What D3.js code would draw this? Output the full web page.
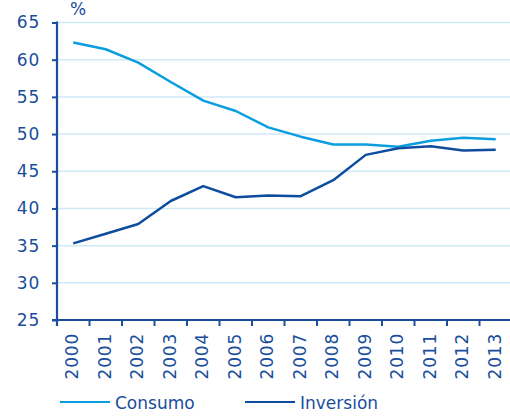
<!DOCTYPE html>
<html><head><meta charset="utf-8">
<script src="https://cdn.jsdelivr.net/npm/d3@7"></script>
<style>
html,body{margin:0;padding:0;background:#fff;}
svg{display:block;}
text{font-family:"DejaVu Sans",sans-serif;}
</style></head>
<body>
<svg id="c" width="510" height="417"></svg>
<script>
const years = ["2000","2001","2002","2003","2004","2005","2006","2007","2008","2009","2010","2011","2012","2013"];
const consumo = [62.3,61.4,59.6,57.0,54.5,53.1,50.9,49.65,48.6,48.6,48.3,49.1,49.5,49.3];
const inversion = [35.3,36.6,37.9,41.0,43.0,41.5,41.75,41.65,43.8,47.2,48.1,48.35,47.8,47.9];
const yTicks = [25,30,35,40,45,50,55,60,65];
const seriesNames = ["Consumo","Inversión"];
const colors = ["#0a9de0","#0e4d9e"];
const dark = "#1a4e9c";

(function(){
const svg = d3.select("#c");
const mL = 57, mR = 512, mT = 22.5, mB = 320;
const x = d3.scaleBand().domain(years).range([mL, mR]).padding(0);
const y = d3.scaleLinear().domain([25,65]).range([mB, mT]);

// gridlines
svg.append("g").selectAll("line").data(yTicks.filter(d=>d>25)).join("line")
  .attr("x1", mL).attr("x2", 510).attr("y1", d=>y(d)).attr("y2", d=>y(d))
  .attr("stroke", "#cfe9f8").attr("stroke-width", 1.5);

// y axis
const ya = svg.append("g").attr("transform", `translate(${mL},0)`)
  .call(d3.axisLeft(y).tickValues(yTicks).tickSize(5).tickPadding(12));
ya.select(".domain").remove();
ya.selectAll("line").attr("stroke", dark).attr("stroke-width", 2);
ya.selectAll("text").attr("fill", dark).attr("font-size", 17).attr("font-family","DejaVu Sans").attr("letter-spacing", 0.8);
svg.append("line").attr("x1", mL).attr("x2", mL).attr("y1", mT-1).attr("y2", mB+6)
  .attr("stroke", dark).attr("stroke-width", 2.2);

// x axis
svg.append("line").attr("x1", mL-5).attr("x2", 510).attr("y1", mB).attr("y2", mB)
  .attr("stroke", dark).attr("stroke-width", 2.2);
svg.append("g").selectAll("line").data(years.slice(1)).join("line")
  .attr("x1", d=>x(d)).attr("x2", d=>x(d)).attr("y1", mB).attr("y2", mB+6)
  .attr("stroke", dark).attr("stroke-width", 2);
svg.append("g").selectAll("text").data(years).join("text")
  .attr("transform", d=>`translate(${x(d)+x.bandwidth()/2+5},${mB+13}) rotate(-90)`)
  .attr("text-anchor","end").attr("fill", dark).attr("font-size", 17).attr("letter-spacing", 0.8)
  .text(d=>d);

svg.append("text").attr("x", 78).attr("y", 15).attr("text-anchor","middle")
  .attr("fill", dark).attr("font-size", 17).text("%");

// lines
const line = d3.line().x((d,i)=>x(years[i])+x.bandwidth()/2).y(d=>y(d));
[consumo, inversion].forEach((s,k)=>{
  svg.append("path").datum(s).attr("d", line).attr("fill","none")
    .attr("stroke", colors[k]).attr("stroke-width", 2.5).attr("stroke-linejoin","round");
});

// legend
const legX = [60, 245];
seriesNames.forEach((n,k)=>{
  svg.append("line").attr("x1", legX[k]).attr("x2", legX[k]+50).attr("y1", 402).attr("y2", 402)
    .attr("stroke", colors[k]).attr("stroke-width", 2);
  svg.append("text").attr("x", legX[k]+55).attr("y", 409).attr("fill", dark)
    .attr("font-size", 17).text(n);
});
})();
</script>
</body></html>
